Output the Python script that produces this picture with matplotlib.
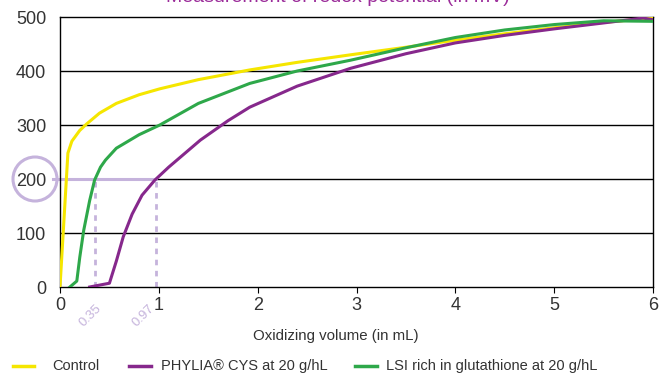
import matplotlib
matplotlib.use('Agg')
import matplotlib.pyplot as plt
from matplotlib.patches import Circle
from matplotlib.lines import Line2D
from matplotlib import transforms

plt.rcParams['font.family'] = ['Liberation Sans Narrow', 'Liberation Sans', 'DejaVu Sans']

# curves (oxidizing volume in mL, potential in mV)
control_x = [0.0, 0.08, 0.12, 0.2, 0.27, 0.4, 0.57, 0.8, 1.01, 1.4, 1.92, 2.4, 2.94, 3.5, 4.0, 4.5, 5.0, 5.5, 6.0]
control_y = [0, 248, 270, 290, 302, 322, 340, 356, 367, 384, 402, 416, 430, 444, 457, 469, 480, 490, 498]

phylia_x = [0.30, 0.50, 0.57, 0.64, 0.73, 0.83, 0.96, 1.1, 1.42, 1.7, 1.92, 2.4, 2.94, 3.5, 4.0, 4.5, 5.0, 5.5, 5.9, 6.0]
phylia_y = [0, 7, 48, 93, 135, 170, 198, 222, 272, 308, 333, 372, 405, 432, 452, 466, 478, 489, 498, 495]

lsi_x = [0.10, 0.17, 0.20, 0.24, 0.30, 0.35, 0.41, 0.46, 0.57, 0.8, 1.01, 1.4, 1.92, 2.4, 2.94, 3.5, 4.0, 4.5, 5.0, 5.5, 6.0]
lsi_y = [0, 11, 55, 105, 160, 198, 222, 235, 257, 282, 300, 340, 377, 400, 420, 443, 462, 476, 486, 493, 492]

x_ticks = [0, 1, 2, 3, 4, 5, 6]
y_ticks = [0, 100, 200, 300, 400, 500]
marks = [0.35, 0.97]
level = 200
labels = ['Control', 'PHYLIA® CYS at 20 g/hL', 'LSI rich in glutathione at 20 g/hL']

yellow = '#f5e600'
purple = '#86288c'
green = '#2ea84a'
lav = '#c5b3dc'
txt = '#333333'

W, H = 664, 376
fig = plt.figure(figsize=(W / 100, H / 100), dpi=100)
ax = fig.add_axes([60 / W, 1 - 287 / H, 593 / W, 270 / H])

for y in y_ticks[1:-1]:
    ax.axhline(y, color='black', lw=1.0, zorder=1)

colors = [yellow, purple, green]
for xs, ys, c in zip([control_x, phylia_x, lsi_x], [control_y, phylia_y, lsi_y], colors):
    ax.plot(xs, ys, color=c, lw=2.2, zorder=3)

# highlight of the 200 mV level
ax.plot([-0.07, marks[1]], [level, level], color=lav, lw=2.2, clip_on=False, zorder=2)
for m in marks:
    ax.plot([m, m], [0, level], color=lav, lw=2.0, ls=(0, (2, 2)), zorder=2)
trans = transforms.blended_transform_factory(ax.transData, ax.transAxes)
for m, xp in zip(marks, [0.31, 0.84]):
    ax.text(xp, -0.105, f'{m:.2f}', transform=trans, rotation=45, ha='center', va='center',
            color=lav, fontsize=9.5)
fig.add_artist(Circle((0.35, 1.97), 0.22, transform=fig.dpi_scale_trans, fill=False,
                      edgecolor=lav, lw=2.2))

ax.set_xlim(0, 6)
ax.set_ylim(0, 500)
ax.set_xticks(x_ticks)
ax.set_yticks(y_ticks)
ax.tick_params(axis='both', labelsize=13, labelcolor=txt, colors='black')
ax.tick_params(axis='y', length=0, pad=10)
ax.tick_params(axis='x', length=4, pad=3)
for s in ax.spines.values():
    s.set_linewidth(1.0)
ax.set_xlabel('Oxidizing volume (in mL)', fontsize=10.8, color=txt)
ax.xaxis.set_label_coords((336 - 60) / 593, -0.155)

fig.text(338 / W, 1 - 2 / H, 'Measurement of redox potential (in mV)', ha='center', va='baseline',
         color='#9b2c9a', fontsize=14)

# legend row along the bottom
line_x = [(13, 34), (129, 151), (355, 377)]
text_x = [52, 161, 386]
ly = 10 / H
for (a, b), tx, c, lab in zip(line_x, text_x, colors, labels):
    fig.add_artist(Line2D([a / W, b / W], [ly, ly], color=c, lw=2.5))
    fig.text(tx / W, ly, lab, ha='left', va='center', color=txt, fontsize=10.5)

fig.savefig('out.png', dpi=100)
